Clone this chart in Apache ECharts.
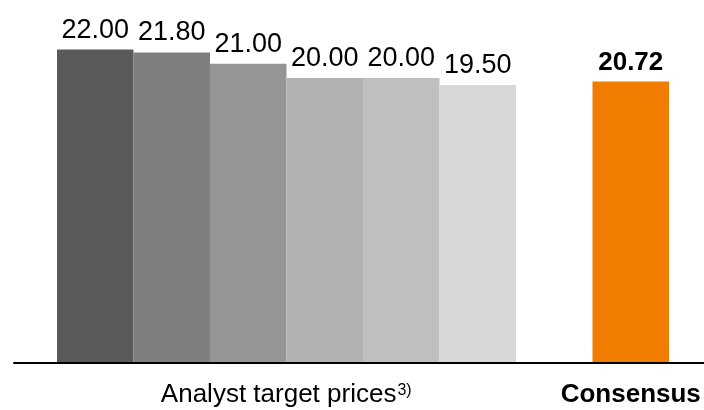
<!DOCTYPE html>
<html><head><meta charset="utf-8">
<script src="https://cdn.jsdelivr.net/npm/echarts@6/dist/echarts.min.js"></script>
<style>html,body{margin:0;padding:0;background:#fff}#c{width:704px;height:410px}</style>
</head><body><div id="c"></div>
<script>
// ---- data ----
const groupLabels = ['Analyst target prices', 'Consensus'];
const groupFootnote = '3)';
const analystPrices = [22.00, 21.80, 21.00, 20.00, 20.00, 19.50];
const consensusPrice = 20.72;          // printed value
const consensusBarDrawn = 19.75;       // bar height as drawn in the reference
const analystColors = ['#5a5a5a', '#7f7f7f', '#959595', '#b1b1b1', '#bfbfbf', '#d8d8d8'];
const consensusColor = '#f07d00';

// ---- build ----
const FONT = '"Liberation Sans Narrow", "Arial Narrow", "Liberation Sans", Arial, sans-serif';
const nA = analystPrices.length;
const slots = [];
for (let i = 0; i < nA + 2; i++) slots.push('slot' + i);
const barData = analystPrices.map((v, i) => ({
  value: v,
  itemStyle: { color: analystColors[i] },
  label: { formatter: v.toFixed(2) }
}));
barData.push('-');
barData.push({
  value: consensusBarDrawn,
  itemStyle: { color: consensusColor },
  label: { formatter: consensusPrice.toFixed(2), fontWeight: 'bold', fontSize: 26 }
});
const analystLabelIdx = nA / 2 - 1;
const consensusIdx = nA + 1;

const chart = echarts.init(document.getElementById('c'));
chart.setOption({
  animation: false,
  grid: [
    { left: 57, right: 35, top: 7, bottom: 48, containLabel: false, outerBoundsMode: 'none' },
    { left: 14, right: 0, top: 7, bottom: 47, containLabel: false, outerBoundsMode: 'none' }
  ],
  xAxis: [
    {
      type: 'category', gridIndex: 0, data: slots,
      axisLine: { show: false }, axisTick: { show: false },
      axisLabel: {
        interval: 0, margin: 18, hideOverlap: false,
        formatter: (v, idx) => {
          if (idx === analystLabelIdx) return '{sp| }{a|' + groupLabels[0] + '}{sup|' + groupFootnote + '}';
          if (idx === consensusIdx) return '{b|' + groupLabels[1] + '}';
          return '';
        },
        rich: {
          sp: { width: 76, fontSize: 26, fontFamily: FONT },
          a: { fontSize: 26, fontFamily: FONT, color: '#000', lineHeight: 30 },
          sup: { fontSize: 16, fontFamily: FONT, color: '#000', verticalAlign: 'top', lineHeight: 30, padding: [3, 0, 0, 1] },
          b: { fontSize: 26, fontFamily: FONT, color: '#000', fontWeight: 'bold', lineHeight: 30 }
        }
      }
    },
    {
      type: 'category', gridIndex: 1, data: [''],
      axisLine: { show: true, lineStyle: { color: '#000', width: 2 } },
      axisTick: { show: false }, axisLabel: { show: false }
    }
  ],
  yAxis: [
    { type: 'value', gridIndex: 0, min: 0, max: 25, show: false, splitLine: { show: false } },
    { type: 'value', gridIndex: 1, show: false, splitLine: { show: false } }
  ],
  series: [{
    type: 'bar',
    xAxisIndex: 0, yAxisIndex: 0,
    data: barData,
    barWidth: '100%',
    barCategoryGap: '0%',
    label: {
      show: true, position: 'top', distance: 6,
      color: '#000', fontSize: 27, fontFamily: FONT
    }
  }]
});
</script></body></html>
